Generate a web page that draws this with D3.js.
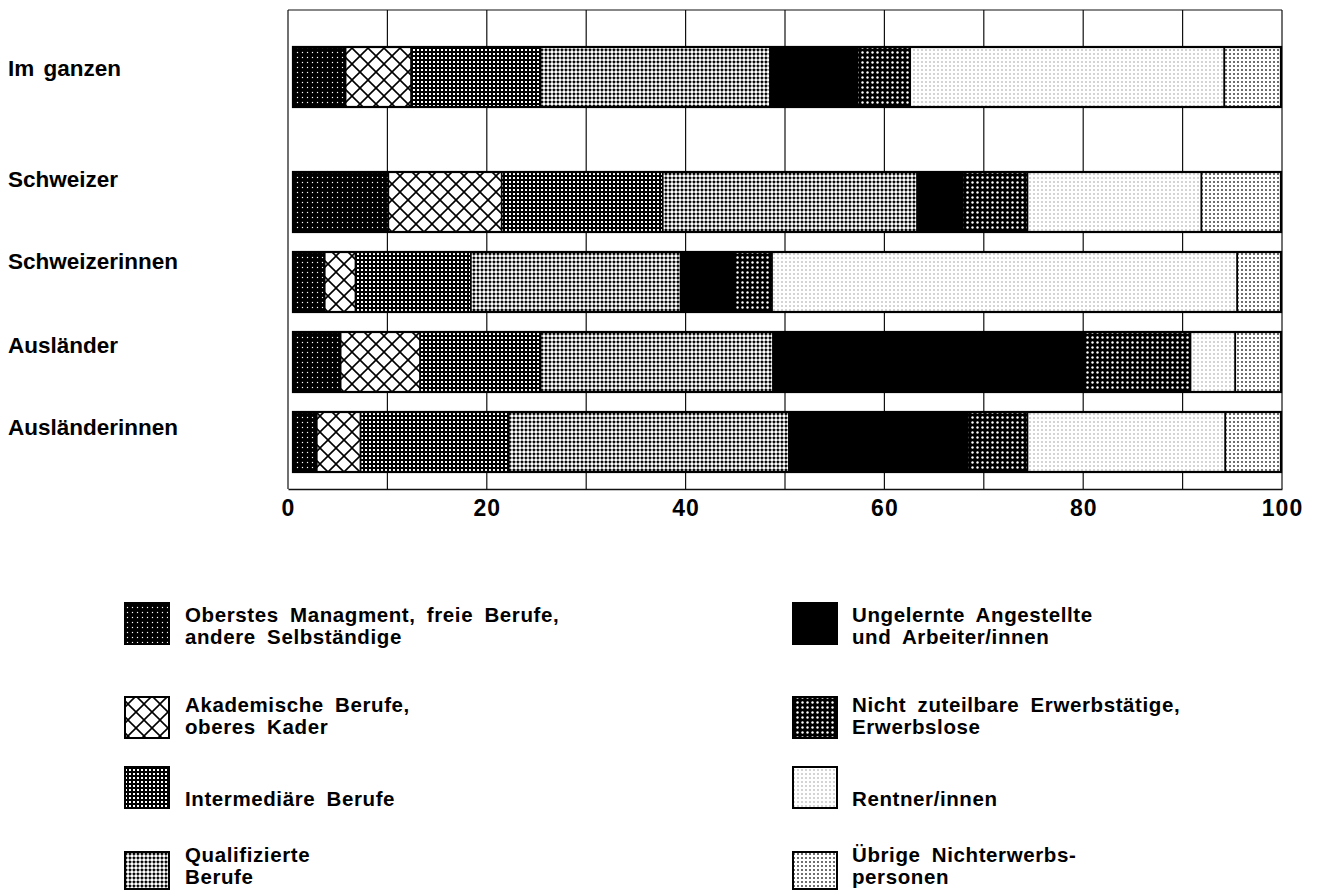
<!DOCTYPE html>
<html><head><meta charset="utf-8">
<script src="https://cdn.jsdelivr.net/npm/d3@7"></script>
<style>
body{margin:0;background:#fff}
svg{display:block}
text{font-family:"Liberation Sans",Arial,Helvetica,sans-serif;font-weight:bold;fill:#000}
</style>
</head><body>
<svg id="c" width="1320" height="891"></svg>
<script>
// ---------- data ----------
const categories = ["Im ganzen", "Schweizer", "Schweizerinnen", "Ausländer", "Ausländerinnen"];
const seriesKeys = ["oberstes", "akademisch", "intermediaer", "qualifiziert", "ungelernt", "nichtZuteilbar", "rentner", "uebrige"];
const seriesLabels = [
  ["Oberstes Managment, freie Berufe,", "andere Selbständige"],
  ["Akademische Berufe,", "oberes Kader"],
  ["Intermediäre Berufe"],
  ["Qualifizierte", "Berufe"],
  ["Ungelernte Angestellte", "und Arbeiter/innen"],
  ["Nicht zuteilbare Erwerbstätige,", "Erwerbslose"],
  ["Rentner/innen"],
  ["Übrige Nichterwerbs-", "personen"]
];
const oberstes       = [5.8, 10.1, 3.7, 5.3, 2.9];
const akademisch     = [6.6, 11.4, 3.1, 8.0, 4.4];
const intermediaer   = [13.0, 16.2, 11.6, 12.1, 14.9];
const qualifiziert   = [23.1, 25.6, 21.1, 23.4, 28.2];
const ungelernt      = [8.8, 4.6, 5.5, 31.4, 18.0];
const nichtZuteilbar = [5.3, 6.5, 3.7, 10.6, 6.0];
const rentner        = [31.6, 17.5, 46.8, 4.5, 19.9];
const uebrige        = [5.8, 8.1, 4.5, 4.7, 5.7];
const xTickLabels = [0, 20, 40, 60, 80, 100];
const gridValues = [0, 10, 20, 30, 40, 50, 60, 70, 80, 90, 100];

const seriesValues = {oberstes, akademisch, intermediaer, qualifiziert, ungelernt, nichtZuteilbar, rentner, uebrige};
const table = categories.map((c, i) => {
  const row = {cat: c};
  seriesKeys.forEach(k => row[k] = seriesValues[k][i]);
  return row;
});

// ---------- layout ----------
const svg = d3.select("#c");
const plotTop = 10, plotBottom = 489;
const x = d3.scaleLinear().domain([0, 100]).range([288, 1282]);
const slot = i => i === 0 ? 0 : i + 0.5625;
const y = d3.scaleLinear().domain([0, slot(4)]).range([47, 412]);
const barH = 60;
const labelDy = [29, 15, 17, 21, 23];

// ---------- patterns ----------
const defs = svg.append("defs");
function dotPattern(id, pitch, bg, fg, size, round) {
  const p = defs.append("pattern").attr("id", id).attr("patternUnits", "userSpaceOnUse")
    .attr("width", pitch).attr("height", pitch);
  p.append("rect").attr("width", pitch).attr("height", pitch).attr("fill", bg);
  if (round) p.append("circle").attr("cx", pitch / 2).attr("cy", pitch / 2).attr("r", size / 2).attr("fill", fg);
  else p.append("rect").attr("x", (pitch - size) / 2).attr("y", (pitch - size) / 2)
    .attr("width", size).attr("height", size).attr("fill", fg);
  return p;
}
dotPattern("p-oberstes", 5, "#000", "#fff", 1.2, false);
(function () {
  const s = 16;
  const p = defs.append("pattern").attr("id", "p-akademisch").attr("patternUnits", "userSpaceOnUse")
    .attr("width", s).attr("height", s);
  p.append("rect").attr("width", s).attr("height", s).attr("fill", "#fff");
  const lines = [[0, 0, s, s], [s, 0, 0, s], [-s / 2, s / 2, s / 2, s * 1.5], [s / 2, -s / 2, s * 1.5, s / 2],
    [s / 2, -s / 2, -s / 2, s / 2], [s * 1.5, s / 2, s / 2, s * 1.5]];
  lines.forEach(l => p.append("line").attr("x1", l[0]).attr("y1", l[1]).attr("x2", l[2]).attr("y2", l[3])
    .attr("stroke", "#000").attr("stroke-width", 1.6));
})();
dotPattern("p-intermediaer", 4, "#000", "#fff", 2, false);
(function () {
  const s = 4;
  const p = defs.append("pattern").attr("id", "p-qualifiziert").attr("patternUnits", "userSpaceOnUse")
    .attr("width", s).attr("height", s);
  p.append("rect").attr("width", s).attr("height", s).attr("fill", "#fff");
  p.append("rect").attr("x", 0).attr("y", 1.6).attr("width", s).attr("height", 0.7).attr("fill", "#000");
  p.append("rect").attr("x", 1.6).attr("y", 0).attr("width", 0.7).attr("height", s).attr("fill", "#000");
  p.append("rect").attr("x", 1).attr("y", 1).attr("width", 1.9).attr("height", 1.9).attr("fill", "#000");
})();
defs.append("pattern").attr("id", "p-ungelernt").attr("patternUnits", "userSpaceOnUse")
  .attr("width", 4).attr("height", 4).append("rect").attr("width", 4).attr("height", 4).attr("fill", "#000");
dotPattern("p-nichtZuteilbar", 5, "#000", "#fff", 2.4, true);
dotPattern("p-rentner", 4, "#fff", "#555", 1, false);
dotPattern("p-uebrige", 4, "#fff", "#000", 1.5, false);

// ---------- grid & frame ----------
const g = svg.append("g");
g.selectAll("line.grid").data(gridValues).join("line").attr("class", "grid")
  .attr("x1", d => x(d)).attr("x2", d => x(d)).attr("y1", plotTop).attr("y2", plotBottom)
  .attr("stroke", "#111").attr("stroke-width", 1.2);
g.append("line").attr("x1", x(0)).attr("x2", x(100)).attr("y1", plotTop).attr("y2", plotTop)
  .attr("stroke", "#111").attr("stroke-width", 1.2);

const axis = d3.axisBottom(x).tickValues(xTickLabels).tickSize(0).tickPadding(11).tickFormat(d3.format("d"));
const ax = svg.append("g").attr("transform", `translate(0,${plotBottom})`).call(axis);
ax.select(".domain").attr("stroke", "#111").attr("stroke-width", 1.6);
ax.selectAll("text").style("font-family", '"Liberation Sans",Arial,sans-serif').style("font-weight", "bold")
  .style("font-size", "23px").attr("fill", "#000").attr("letter-spacing", "1px");

// ---------- bars ----------
const stack = d3.stack().keys(seriesKeys)(table);
const barsG = svg.append("g");
stack.forEach(s => {
  barsG.selectAll(null).data(s).join("rect")
    .attr("x", (d) => d[0] === 0 ? x(0) + 5 : x(d[0]))
    .attr("y", (d, i) => y(slot(i)))
    .attr("width", d => (x(d[1]) - (d[0] === 0 ? x(0) + 5 : x(d[0]))) - (d[1] >= 99.99 ? 1 : 0))
    .attr("height", barH)
    .attr("fill", `url(#p-${s.key})`)
    .attr("stroke", "#000").attr("stroke-width", 1.6);
});
barsG.selectAll("rect.outline").data(categories).join("rect").attr("class", "outline")
  .attr("x", x(0) + 5).attr("y", (d, i) => y(slot(i)))
  .attr("width", x(100) - 1 - x(0) - 5).attr("height", barH)
  .attr("fill", "none").attr("stroke", "#000").attr("stroke-width", 2.2);

// category labels
svg.selectAll("text.cat").data(categories).join("text").attr("class", "cat")
  .attr("x", 8).attr("y", (d, i) => y(slot(i)) + labelDy[i])
  .style("font-size", "22.5px").attr("word-spacing", "3px").text(d => d);

// ---------- legend ----------
const legCols = [{sx: 125, tx: 185}, {sx: 793, tx: 852}];
const legRowTop = [603, 697, 767, 852];
const legLineY = [[19, 41], [15, 37], [39], [10, 32]];
const legend = svg.append("g");
seriesKeys.forEach((k, i) => {
  const col = legCols[Math.floor(i / 4)], r = i % 4;
  const top = legRowTop[r];
  legend.append("rect").attr("x", col.sx).attr("y", top).attr("width", 44).attr("height", r === 3 ? 37 : 41)
    .attr("fill", `url(#p-${k})`).attr("stroke", "#000").attr("stroke-width", 2);
  seriesLabels[i].forEach((line, j) => {
    legend.append("text").attr("x", col.tx).attr("y", top + legLineY[r][j])
      .style("font-size", "20.5px").attr("letter-spacing", "0.6px").attr("word-spacing", "5px").text(line);
  });
});
</script>
</body></html>
